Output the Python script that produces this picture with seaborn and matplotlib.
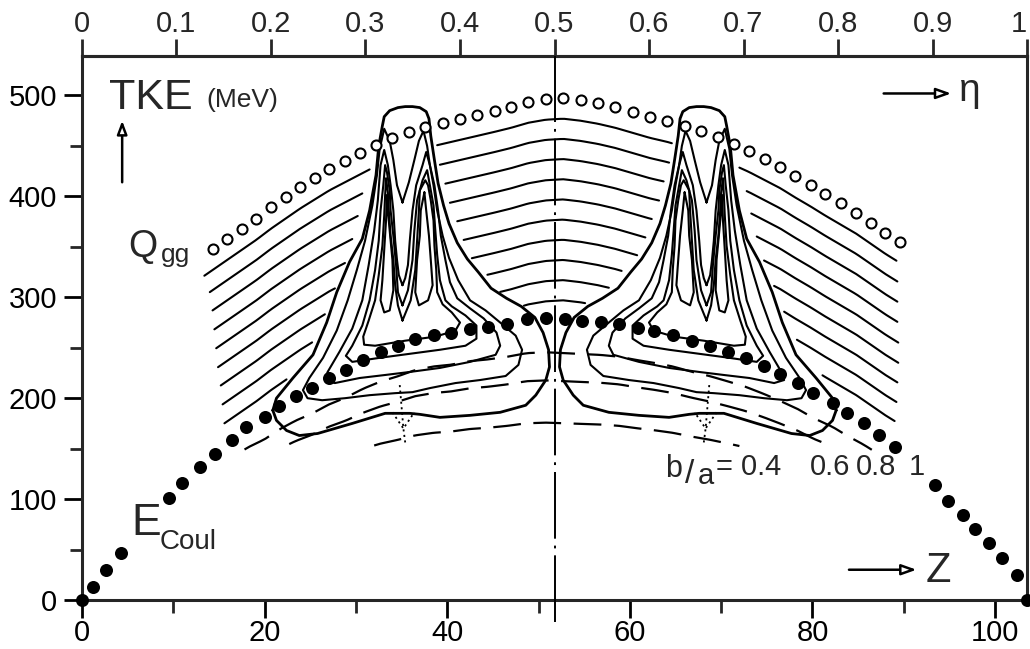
import numpy as np
import matplotlib
matplotlib.use("Agg")
import matplotlib.pyplot as plt
import seaborn as sns

sns.set_style("ticks")
plt.rcParams["font.family"] = ["Liberation Sans", "DejaVu Sans"]
plt.rcParams["lines.scale_dashes"] = False
plt.rcParams["axes.linewidth"] = 2.2

# total charge of the fissioning system (eta = Z / Z_TOTAL)
Z_TOTAL = 103.5

# Coulomb energy of touching spheres, b/a = 1 (filled dots)
coul_z = [0.0, 1.2, 2.6, 4.3, 9.5, 11.0, 12.9, 14.6, 16.4, 18.0, 20.0, 21.6, 23.4,
          25.2, 27.0, 28.9, 30.8, 32.7, 34.6, 36.5, 38.5, 40.4, 42.5, 44.5, 46.6,
          48.7, 50.8, 52.9, 54.8, 56.8, 58.8, 60.9, 62.7, 64.7, 66.8, 68.8, 70.8,
          72.7, 74.7, 76.5, 78.4, 80.1, 82.2, 83.8, 85.6, 87.3, 89.0, 93.4, 94.9,
          96.5, 97.8, 99.3, 100.8, 102.4, 103.5]
coul_tke = [0, 13, 30, 47, 101, 116, 132, 145, 159, 171, 181, 192, 202,
            210, 220, 228, 238, 246, 252, 259, 263, 265, 269, 271, 274,
            278, 279, 278, 277, 276, 274, 270, 267, 263, 257, 252, 246,
            240, 232, 224, 215, 205, 195, 185, 175, 164, 152, 114, 98,
            84, 70, 56, 42, 25, 0]

# ground-state Q values (open circles)
qgg_z = [14.3, 15.9, 17.5, 19.1, 20.7, 22.3, 23.9, 25.5, 27.1, 28.8, 30.5, 32.2,
         34.0, 35.8, 37.6, 39.5, 41.4, 43.3, 45.2, 47.0, 48.9, 50.8, 52.7, 54.6,
         56.5, 58.4, 60.3, 62.2, 64.1, 66.0, 67.8, 69.7, 71.4, 73.1, 74.8, 76.5,
         78.1, 79.8, 81.4, 83.1, 84.8, 86.4, 88.0, 89.6]
qgg_tke = [348, 358, 368, 378, 389, 399, 409, 418, 427, 435, 443, 451,
           458, 464, 469, 473, 477, 481, 485, 489, 494, 497, 498, 496,
           493, 489, 484, 479, 475, 470, 465, 459, 452, 445, 437, 429,
           420, 411, 402, 393, 384, 374, 364, 355]

# lines of constant excitation energy below Q_gg (MeV)
estar = [21, 41, 61, 81, 101, 121, 141, 161, 181, 201]
left_start = [13.4, 14.0, 14.3, 14.5, 14.7, 14.9, 15.2, 15.4, 15.6]
left_end = [31.5, 30.7, 30.2, 29.6, 28.8, 27.7, 26.6, 25.2, 22.4]
centre_start = [38.9, 39.2, 39.8, 40.3, 41.1, 41.8, 42.7, 44.4, 45.8, 48.4]
right_start = [72.0, 72.8, 73.3, 73.9, 74.7, 75.8, 76.9, 78.3, 81.1]
right_end = [89.2, 89.3, 89.3, 89.3, 89.4, 89.4, 89.3, 89.2, 89.0]

# deformed scission configurations: fraction of the touching-sphere energy
ba_labels = ["0.4", "0.6", "0.8"]
ba_scale = [0.63, 0.78, 0.88]
ba_zmin = [32.0, 22.7, 17.8]
ba_zmax = [72.0, 81.3, 86.5]

# yield contours of the light fragment group (heavy group is the mirror image)
c0_z = [20.9, 21.3, 23.1, 25.3, 26.8, 27.9, 29.3, 30.7, 31.5, 32.2, 32.5, 32.9,
        33.1, 33.7, 34.6, 35.4, 36.2, 37.0, 37.7, 38.0, 38.2, 38.6, 39.0, 39.6,
        40.2, 41.1, 42.2, 43.4, 44.8, 46.5, 48.1, 49.6, 50.5, 51.1, 51.2, 50.8,
        49.7, 48.6, 45.8, 42.5, 39.2, 37.0, 35.9, 34.4, 33.2, 29.6, 25.8, 23.8,
        22.4, 21.3, 20.9]
c0_tke = [188, 200, 220, 243, 275, 305, 335, 358, 386, 421, 450, 470,
          479, 485, 488, 489, 489, 488, 484, 477, 460, 436, 413, 391,
          373, 354, 338, 325, 309, 299, 291, 280, 265, 248, 231, 218,
          203, 193, 186, 183, 181, 184, 185, 185, 185, 175, 165, 163,
          168, 178, 188]

c1_z = [35.1, 34.5, 34.1, 33.7, 33.1, 32.6, 32.3, 31.8, 31.0, 30.1, 29.1, 27.9,
        26.4, 24.9, 24.2, 24.7, 26.3, 28.8, 31.5, 34.3, 36.2, 38.1, 40.9, 43.6,
        46.4, 47.8, 48.2, 47.5, 45.8, 44.2, 42.5, 41.2, 40.2, 39.5, 38.9, 38.5,
        38.1, 37.8, 37.4, 36.9, 36.4, 35.8, 35.1]
c1_tke = [394, 411, 436, 455, 467, 447, 421, 391, 356, 327, 297, 267,
          240, 220, 208, 200, 198, 200, 203, 205, 206, 210, 215, 218,
          222, 233, 248, 262, 275, 287, 297, 317, 339, 361, 386, 411,
          431, 450, 465, 455, 436, 414, 394]

c2_z = [35.1, 34.7, 34.5, 34.3, 34.1, 33.8, 33.5, 33.1, 32.7, 32.4, 32.0, 31.4,
        30.7, 29.6, 28.2, 26.9, 26.6, 27.7, 30.4, 33.2, 35.9, 39.2, 42.5, 45.3,
        45.8, 45.4, 44.0, 42.5, 41.1, 40.3, 39.8, 39.3, 39.0, 38.6, 38.1, 37.7,
        37.3, 36.6, 36.2, 35.9, 35.7, 35.4, 35.1]
c2_tke = [312, 322, 337, 356, 386, 411, 431, 446, 431, 396, 366, 332,
          297, 269, 246, 226, 218, 215, 220, 223, 226, 230, 236, 243,
          252, 265, 279, 289, 299, 315, 337, 361, 386, 411, 431, 444,
          431, 411, 386, 356, 332, 319, 312]

c3_z = [35.1, 34.6, 34.4, 34.1, 33.8, 33.7, 33.4, 33.2, 33.0, 32.7, 32.5, 32.1,
        31.5, 30.7, 29.6, 28.9, 29.6, 32.6, 35.9, 39.2, 42.0, 43.2, 43.2, 42.0,
        40.5, 39.8, 39.2, 38.9, 38.7, 38.5, 38.1, 37.8, 37.3, 36.7, 36.4, 36.2,
        35.7, 35.1]
c3_tke = [292, 305, 332, 361, 386, 406, 424, 431, 411, 386, 356, 327,
          297, 272, 252, 242, 236, 240, 244, 248, 252, 259, 272, 282,
          291, 297, 317, 342, 366, 391, 411, 426, 416, 396, 366, 337,
          307, 292]

c4_z = [35.1, 34.6, 34.3, 34.1, 33.8, 33.6, 33.5, 33.3, 33.2, 33.1, 32.9, 32.5,
        32.1, 31.4, 30.8, 30.9, 32.1, 35.4, 38.7, 40.9, 41.4, 40.5, 39.5, 38.9,
        38.8, 38.6, 38.5, 38.2, 37.9, 37.6, 37.0, 36.9, 36.7, 36.5, 36.0, 35.1]
c4_tke = [277, 292, 312, 337, 361, 386, 404, 418, 401, 381, 351, 322,
          297, 277, 261, 253, 252, 257, 261, 267, 275, 285, 293, 305,
          327, 351, 376, 396, 411, 416, 406, 386, 356, 327, 297, 277]

c5a_z = [33.4, 33.3, 33.1, 32.9, 32.7, 33.1, 33.7, 34.1, 34.0, 33.7, 33.5, 33.4]
c5a_tke = [401, 376, 347, 317, 297, 285, 287, 307, 337, 366, 386, 401]
c5b_z = [37.5, 37.7, 38.0, 38.2, 38.4, 37.9, 36.9, 36.5, 36.7, 37.0, 37.1, 37.5]
c5b_tke = [404, 386, 361, 337, 312, 297, 292, 305, 337, 361, 386, 404]

# dotted cusp below each yield maximum
cusp_stem_z = [34.8, 35.2, 35.4]
cusp_stem_tke = [213, 170, 156]
cusp_arms_z = [34.0, 35.2, 36.4]
cusp_arms_tke = [186, 170, 186]

inner_contours = [(c1_z, c1_tke), (c2_z, c2_tke), (c3_z, c3_tke),
                  (c4_z, c4_tke), (c5a_z, c5a_tke), (c5b_z, c5b_tke)]

x_major = [0, 20, 40, 60, 80, 100]
x_minor = [10, 30, 50, 70, 90]
y_major = [0, 100, 200, 300, 400, 500]
y_minor = [50, 150, 250, 350, 450]
eta_ticks = [0, 0.1, 0.2, 0.3, 0.4, 0.5, 0.6, 0.7, 0.8, 0.9, 1.0]
eta_labels = ["0", "0.1", "0.2", "0.3", "0.4", "0.5", "0.6", "0.7", "0.8", "0.9", "1"]


def qgg_at(z):
    """Q_gg along Z, linear between the tabulated points, linear beyond the ends."""
    z = np.asarray(z, float)
    zq = np.asarray(qgg_z, float)
    tq = np.asarray(qgg_tke, float)
    t = np.interp(z, zq, tq)
    s0 = (tq[1] - tq[0]) / (zq[1] - zq[0])
    s1 = (tq[-1] - tq[-2]) / (zq[-1] - zq[-2])
    t = np.where(z < zq[0], tq[0] + s0 * (z - zq[0]), t)
    t = np.where(z > zq[-1], tq[-1] + s1 * (z - zq[-1]), t)
    return t


def draw_path(ax, z, t, lw=1.5, **kw):
    sns.lineplot(x=list(z), y=list(t), sort=False, estimator=None, color="black",
                 lw=lw, legend=False, ax=ax, **kw)


fig = plt.figure(figsize=(10.3, 6.49), dpi=100)
ax = fig.add_axes([0.0796, 0.0755, 0.9175, 0.838])

ink = "black"
LW = 1.5

# constant excitation energy lines
for k, (a, b) in enumerate(zip(left_start, left_end)):
    zz = np.linspace(a, b, 40)
    draw_path(ax, zz, qgg_at(zz) - estar[k], lw=LW)
for k, a in enumerate(centre_start):
    zz = np.linspace(a, Z_TOTAL - a, 60)
    draw_path(ax, zz, qgg_at(zz) - estar[k], lw=LW)
for k, (a, b) in enumerate(zip(right_start, right_end)):
    zz = np.linspace(a, b, 40)
    draw_path(ax, zz, qgg_at(zz) - estar[k], lw=LW)

# scission energies for deformed fragments (dashed)
for scale, a, b in zip(ba_scale, ba_zmin, ba_zmax):
    zz = np.linspace(a, b, 120)
    ax.plot(zz, scale * np.interp(zz, coul_z, coul_tke), color=ink, lw=1.6,
            dashes=(20, 9), solid_capstyle="butt")

# yield contours, light and heavy groups
c0 = np.asarray(c0_z)
draw_path(ax, c0, c0_tke, lw=2.0)
draw_path(ax, Z_TOTAL - c0, c0_tke, lw=2.0)
for cz, ct in inner_contours:
    cz = np.asarray(cz)
    draw_path(ax, cz, ct, lw=LW)
    draw_path(ax, Z_TOTAL - cz, ct, lw=LW)
for cz, ct in [(cusp_stem_z, cusp_stem_tke), (cusp_arms_z, cusp_arms_tke)]:
    cz = np.asarray(cz)
    for zz in (cz, Z_TOTAL - cz):
        ax.plot(zz, ct, color=ink, lw=1.3, dashes=(1.5, 2.5))

# symmetric split
ax.plot([Z_TOTAL / 2, Z_TOTAL / 2], [-22, 539], color=ink, lw=1.4,
        dashes=(48, 5, 2, 5), clip_on=False, zorder=3)

# Q_gg and E_Coul markers
sns.scatterplot(x=qgg_z, y=qgg_tke, s=52, color="white", edgecolor=ink,
                linewidth=1.5, zorder=6, ax=ax, legend=False)
sns.scatterplot(x=coul_z, y=coul_tke, s=88, color=ink, edgecolor=ink,
                linewidth=0, zorder=7, ax=ax, legend=False, clip_on=False)

ax.set_xlim(0, Z_TOTAL)
ax.set_ylim(0, 539)
ax.set_xlabel("")
ax.set_ylabel("")
ax.set_xticks(x_major)
ax.set_xticks(x_minor, minor=True)
ax.set_yticks(y_major)
ax.set_yticks(y_minor, minor=True)
ax.tick_params(which="major", direction="out", length=13, width=2.0, pad=5,
               labelsize=21, colors=ink)
ax.tick_params(axis="x", which="major", pad=1)
ax.tick_params(which="minor", direction="out", length=9, width=2.0)
for sp in ax.spines.values():
    sp.set_visible(True)
    sp.set_linewidth(2.2)

top = ax.secondary_xaxis("top", functions=(lambda z: np.asarray(z) / Z_TOTAL,
                                            lambda e: np.asarray(e) * Z_TOTAL))
top.set_xticks(eta_ticks, labels=eta_labels)
top.tick_params(direction="out", length=12, width=2.0, pad=1, labelsize=21)
top.spines["top"].set_linewidth(2.2)
# the last eta label sits at the right edge of the frame
top.get_xticklabels()[-1].set_horizontalalignment("right")

# annotations
ax.text(3.0, 487, "TKE", fontsize=31, ha="left", va="baseline")
ax.text(13.6, 489, "(MeV)", fontsize=19, ha="left", va="baseline")
ax.annotate("", xy=(4.4, 475), xytext=(4.4, 414),
            arrowprops=dict(arrowstyle="-|>,head_length=0.8,head_width=0.3",
                            fc="white", ec=ink, lw=1.8, shrinkA=0, shrinkB=0),
            annotation_clip=False)
ax.text(5.1, 340, "Q", fontsize=27, ha="left", va="baseline")
ax.text(8.6, 335, "gg", fontsize=19, ha="left", va="baseline")
ax.text(5.4, 64, "E", fontsize=32, ha="left", va="baseline")
ax.text(8.5, 51, "Coul", fontsize=20, ha="left", va="baseline")

ax.annotate("", xy=(95.2, 502), xytext=(87.8, 502),
            arrowprops=dict(arrowstyle="-|>,head_length=0.9,head_width=0.32",
                            fc="white", ec=ink, lw=1.8, shrinkA=0, shrinkB=0))
ax.text(96.0, 495, "η", fontsize=28, ha="left", va="baseline")
ax.annotate("", xy=(91.4, 30), xytext=(84.0, 30),
            arrowprops=dict(arrowstyle="-|>,head_length=0.9,head_width=0.32",
                            fc="white", ec=ink, lw=1.8, shrinkA=0, shrinkB=0))
ax.text(92.4, 18, "Z", fontsize=30, ha="left", va="baseline")

ax.text(63.9, 122, "b", fontsize=22, ha="left", va="baseline")
ax.text(66.0, 116, "/", fontsize=24, ha="left", va="baseline")
ax.text(67.4, 115, "a", fontsize=21, ha="left", va="baseline")
ax.text(69.4, 124, "= " + ba_labels[0], fontsize=21, ha="left", va="baseline")
ax.text(79.7, 124, ba_labels[1], fontsize=21, ha="left", va="baseline")
ax.text(84.8, 124, ba_labels[2], fontsize=21, ha="left", va="baseline")
ax.text(90.6, 124, "1", fontsize=21, ha="left", va="baseline")

fig.savefig("out.png", dpi=100)
